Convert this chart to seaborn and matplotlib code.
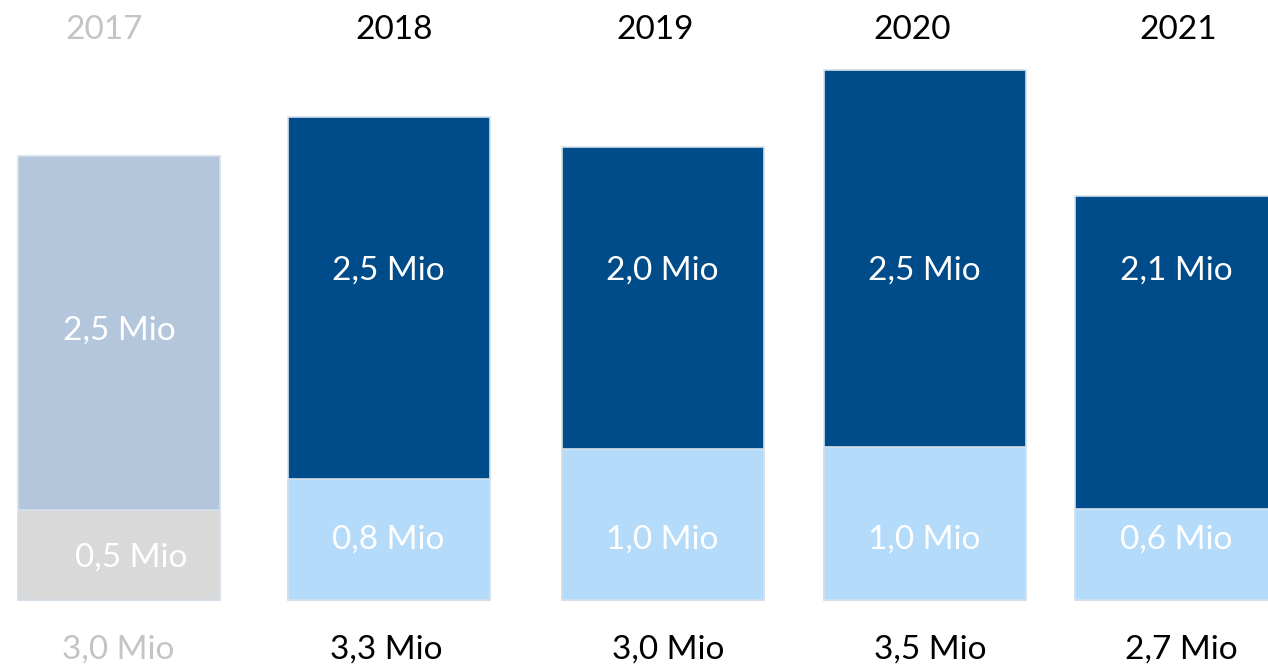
import matplotlib
matplotlib.use("Agg")
import matplotlib.pyplot as plt
import seaborn as sns
import pandas as pd

# ---- data (in Mio) ----
years = ["2017", "2018", "2019", "2020", "2021"]
lower_values = [0.60, 0.81, 1.01, 1.02, 0.61]
upper_values = [2.36, 2.41, 2.01, 2.51, 2.08]
lower_labels = ["0,5 Mio", "0,8 Mio", "1,0 Mio", "1,0 Mio", "0,6 Mio"]
upper_labels = ["2,5 Mio", "2,5 Mio", "2,0 Mio", "2,5 Mio", "2,1 Mio"]
total_labels = ["3,0 Mio", "3,3 Mio", "3,0 Mio", "3,5 Mio", "2,7 Mio"]

# ---- layout / style ----
bar_centers = [119, 388.5, 662.5, 924.5, 1176]
upper_colors = ["#b3c6dc", "#004b8a", "#004b8a", "#004b8a", "#004b8a"]
lower_colors = ["#d9d9d9", "#b5dbfb", "#b5dbfb", "#b5dbfb", "#b5dbfb"]
text_colors = ["#c4c4c4", "#000000", "#000000", "#000000", "#000000"]
year_dx = [-15, 6, -7, -12, 2]
total_dx = [-1, -2, 6, 6, 5]
upper_y = [1.795, 2.195, 2.195, 2.195, 2.195]
lower_y = [0.283, 0.403, 0.403, 0.403, 0.403]
lower_dx = [12, 0, 0, 0, 0]
year_y = 3.80
total_y = -0.333
edge_color = "#d5e0eb"

sns.set_theme(style="white")
plt.rcParams["font.family"] = ["Lato", "DejaVu Sans"]

df = pd.DataFrame({
    "year": years,
    "pos": bar_centers,
    "total": [a + b for a, b in zip(lower_values, upper_values)],
    "lower": lower_values,
})

fig = plt.figure(figsize=(12.68, 6.67), dpi=100)
ax = fig.add_axes([0, 0, 1, 1])

width_frac = 202 / (bar_centers[-1] - bar_centers[-2])
sns.barplot(data=df, x="pos", y="total", hue="year",
            palette=dict(zip(years, upper_colors)), native_scale=True,
            saturation=1, errorbar=None, legend=False, width=width_frac,
            edgecolor=edge_color, linewidth=1.2, ax=ax)
sns.barplot(data=df, x="pos", y="lower", hue="year",
            palette=dict(zip(years, lower_colors)), native_scale=True,
            saturation=1, errorbar=None, legend=False, width=width_frac,
            edgecolor=edge_color, linewidth=1.2, ax=ax)

fs = 24
for i, yr in enumerate(years):
    x = bar_centers[i]
    ax.text(x + year_dx[i], year_y, yr, ha="center", va="center",
            fontsize=fs, color=text_colors[i])
    ax.text(x + total_dx[i], total_y, total_labels[i], ha="center", va="center",
            fontsize=fs, color=text_colors[i])
    ax.text(x, upper_y[i], upper_labels[i], ha="center", va="center",
            fontsize=fs, color="white")
    ax.text(x + lower_dx[i], lower_y[i], lower_labels[i], ha="center", va="center",
            fontsize=fs, color="white")

ax.set_xlim(0, 1268)
ax.set_ylim(-67 / 150, 4.0)
ax.set_axis_off()

fig.savefig("out.png", dpi=100, facecolor="white")
